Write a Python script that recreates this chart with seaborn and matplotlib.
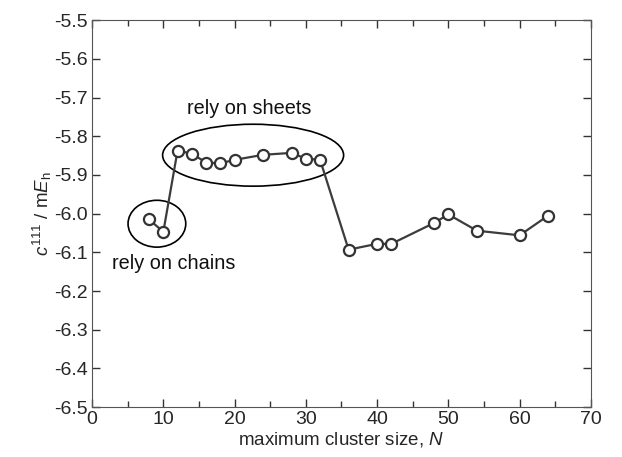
import numpy as np
import matplotlib
matplotlib.use('Agg')
import matplotlib.pyplot as plt
import seaborn as sns
from matplotlib.patches import Ellipse
from matplotlib.ticker import MultipleLocator, FormatStrFormatter

# data
cluster_size = [8, 10, 12, 14, 16, 18, 20, 24, 28, 30, 32, 36, 40, 42, 48, 50, 54, 60, 64]
c111 = [-6.015, -6.047, -5.837, -5.845, -5.868, -5.870, -5.861, -5.848, -5.843, -5.858, -5.861,
        -6.093, -6.078, -6.078, -6.024, -6.002, -6.044, -6.056, -6.005]

sns.set_style("ticks")
plt.rcParams['font.family'] = ['Liberation Sans', 'DejaVu Sans']
plt.rcParams['mathtext.fontset'] = 'custom'
plt.rcParams['mathtext.rm'] = 'Liberation Sans'
plt.rcParams['mathtext.it'] = 'Liberation Sans:italic'

fig = plt.figure(figsize=(6.22, 4.57), dpi=100)
ax = fig.add_axes([0.148, 0.109, 0.802, 0.847])

sns.lineplot(x=cluster_size, y=c111, ax=ax, color='#3c3c3c', linewidth=1.6,
             marker='o', markersize=8, markerfacecolor='white',
             markeredgecolor='#333333', markeredgewidth=1.6)

# annotation ellipses
ax.add_patch(Ellipse((9.1, -6.026), 8.1, 0.121, fill=False, edgecolor='black', linewidth=1.2))
ax.add_patch(Ellipse((22.6, -5.849), 25.4, 0.160, fill=False, edgecolor='black', linewidth=1.2))
ax.text(22.1, -5.729, 'rely on sheets', ha='center', va='center', fontsize=14.3, color='#111111')
ax.text(11.5, -6.130, 'rely on chains', ha='center', va='center', fontsize=14.3, color='#111111')

ax.xaxis.set_major_locator(MultipleLocator(10))
ax.xaxis.set_minor_locator(MultipleLocator(5))
ax.yaxis.set_major_locator(MultipleLocator(0.1))
ax.yaxis.set_major_formatter(FormatStrFormatter('%.1f'))
ax.set_xlim(0, 70)
ax.set_ylim(-6.5, -5.5)
ax.tick_params(which='both', direction='in', top=True, right=True, labelsize=14,
               color='#333333', width=1, pad=3)
ax.tick_params(which='major', length=6)
ax.tick_params(which='minor', length=4)
for s in ax.spines.values():
    s.set_color('#555555')
    s.set_linewidth(0.8)

ax.set_xlabel('maximum cluster size, $N$', fontsize=13.5, labelpad=1)
ax.set_ylabel('$c^{111}$ / m$E_\\mathrm{h}$', fontsize=13.5, labelpad=0)

fig.savefig('out.png', dpi=100)
